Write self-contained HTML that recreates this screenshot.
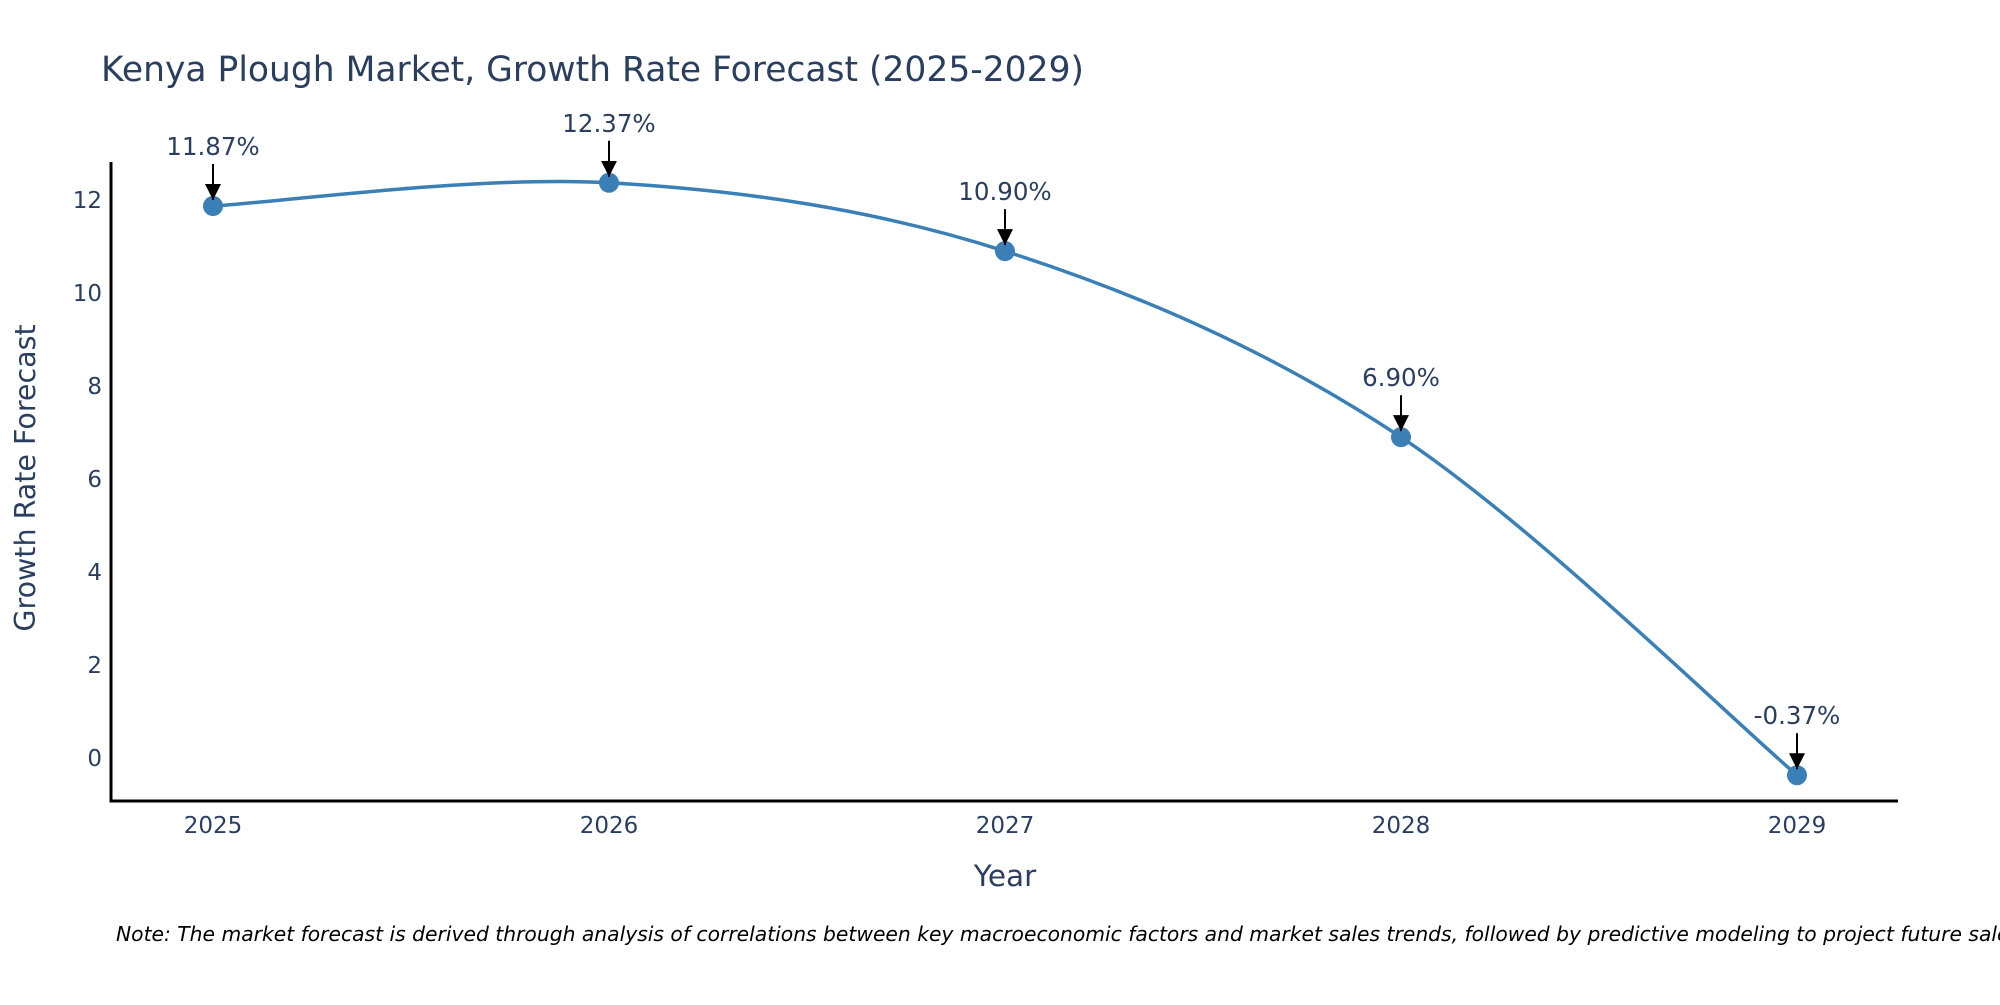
<!DOCTYPE html>
<html><head><meta charset="utf-8"><style>
body{margin:0;background:#fff;}
svg text{font-family:"DejaVu Sans","Liberation Sans",sans-serif;}
</style></head><body>
<svg id="chart" width="2000" height="1000" xmlns="http://www.w3.org/2000/svg">
<defs><marker id="ah" viewBox="0 0 10 10" refX="10" refY="5" markerWidth="8" markerHeight="8" markerUnits="strokeWidth" orient="auto"><path d="M0,0 L10,5 L0,10 z" fill="#000"/></marker></defs>
<text x="101" y="81" font-size="34.5" fill="#2a3f5f">Kenya Plough Market, Growth Rate Forecast (2025-2029)</text>
<g id="plot"></g>
<text x="1005" y="886" font-size="29.5" fill="#2a3f5f" text-anchor="middle">Year</text>
<text transform="translate(35,478) rotate(-90)" font-size="28.5" fill="#2a3f5f" text-anchor="middle">Growth Rate Forecast</text>
<text x="116" y="941" font-size="20.3" font-style="italic" fill="#000">Note: The market forecast is derived through analysis of correlations between key macroeconomic factors and market sales trends, followed by predictive modeling to project future sales</text>
</svg>
<script>
const years=[2025,2026,2027,2028,2029];
const values=[11.87,12.37,10.90,6.90,-0.37];
const labels=["11.87%","12.37%","10.90%","6.90%","-0.37%"];
const yTicks=[0,2,4,6,8,10,12];
const NS="http://www.w3.org/2000/svg";
const g=document.getElementById('plot');
const xS=v=>213+(v-2025)*(1797-213)/4;
const yS=v=>758-v*(758-200)/12;
function mk(t,a){const e=document.createElementNS(NS,t);for(const k in a)e.setAttribute(k,a[k]);g.appendChild(e);return e;}
let ax=mk('path',{d:'M111,162 L111,801 L1898,801',fill:'none',stroke:'#000','stroke-width':3});


yTicks.forEach(v=>{const t=mk('text',{x:102,y:yS(v)+8,'font-size':23,fill:'#2a3f5f','text-anchor':'end'});t.textContent=v;

});
years.forEach(v=>{const t=mk('text',{x:xS(v),y:833,'font-size':23,fill:'#2a3f5f','text-anchor':'middle'});t.textContent=v;

});
const pts=years.map((y,i)=>[xS(y),yS(values[i])]);
let d='M'+pts[0][0]+','+pts[0][1];
for(let i=0;i<pts.length-1;i++){const p0=pts[i-1]||pts[i],p1=pts[i],p2=pts[i+1],p3=pts[i+2]||p2;const s=1/6;
d+=` C${p1[0]+(p2[0]-p0[0])*s},${p1[1]+(p2[1]-p0[1])*s} ${p2[0]-(p3[0]-p1[0])*s},${p2[1]-(p3[1]-p1[1])*s} ${p2[0]},${p2[1]}`;}
const line=mk('path',{d:d,fill:'none',stroke:'#3a7fb5','stroke-width':3.5});


pts.forEach((p,i)=>{const c=mk('circle',{cx:p[0],cy:p[1],r:10,fill:'#3a7fb5'});


const a=mk('line',{x1:p[0],y1:p[1]-42,x2:p[0],y2:p[1]-6,stroke:'#000','stroke-width':2,'marker-end':'url(#ah)'});


const t=mk('text',{x:p[0],y:p[1]-51,'font-size':24.5,fill:'#2a3f5f','text-anchor':'middle'});t.textContent=labels[i];

});
</script>
</body></html>
